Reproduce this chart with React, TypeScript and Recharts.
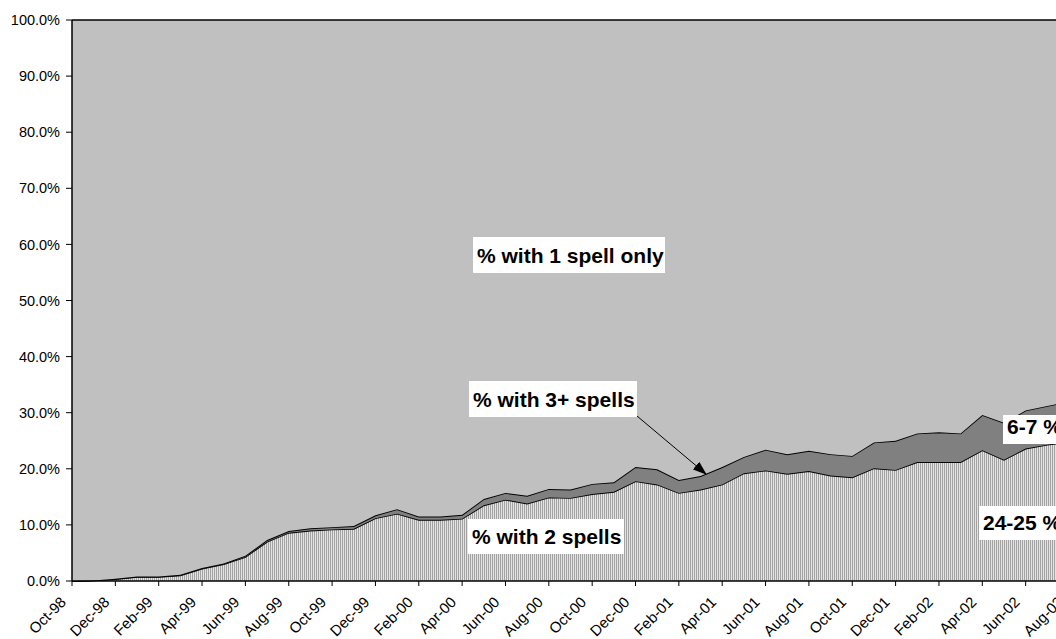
import { AreaChart, Area, XAxis, YAxis } from "recharts";

const months = [
  "Oct-98", "Nov-98", "Dec-98", "Jan-99", "Feb-99", "Mar-99", "Apr-99", "May-99",
  "Jun-99", "Jul-99", "Aug-99", "Sep-99", "Oct-99", "Nov-99", "Dec-99", "Jan-00",
  "Feb-00", "Mar-00", "Apr-00", "May-00", "Jun-00", "Jul-00", "Aug-00", "Sep-00",
  "Oct-00", "Nov-00", "Dec-00", "Jan-01", "Feb-01", "Mar-01", "Apr-01", "May-01",
  "Jun-01", "Jul-01", "Aug-01", "Sep-01", "Oct-01", "Nov-01", "Dec-01", "Jan-02",
  "Feb-02", "Mar-02", "Apr-02", "May-02", "Jun-02", "Jul-02", "Aug-02",
];

// % of people with 2 spells
const twoSpells = [
  0.0, 0.1, 0.35, 0.75, 0.75, 1.0, 2.2, 3.0, 4.3, 7.0, 8.6, 9.0, 9.2, 9.3, 11.2, 12.0,
  10.9, 10.9, 11.1, 13.5, 14.5, 13.8, 14.9, 14.8, 15.5, 15.9, 17.8, 17.2, 15.7, 16.3,
  17.2, 19.2, 19.7, 19.1, 19.6, 18.8, 18.5, 20.1, 19.8, 21.2, 21.2, 21.2, 23.3, 21.6,
  23.6, 24.3, 24.8,
];

// % with 3 or more spells
const threePlusSpells = [
  0.0, 0.0, 0.05, 0.05, 0.05, 0.1, 0.1, 0.1, 0.2, 0.3, 0.3, 0.4, 0.4, 0.5, 0.5, 0.8,
  0.6, 0.6, 0.7, 1.1, 1.2, 1.4, 1.5, 1.5, 1.8, 1.7, 2.5, 2.7, 2.3, 2.4, 3.1, 2.9, 3.7,
  3.5, 3.6, 3.8, 3.8, 4.6, 5.2, 5.1, 5.3, 5.1, 6.3, 6.6, 6.8, 6.9, 7.2,
];

// % with a single spell only
const oneSpellOnly = [
  100.0, 99.9, 99.6, 99.2, 99.2, 98.9, 97.7, 96.9, 95.5, 92.7, 91.1, 90.6, 90.4, 90.2,
  88.3, 87.2, 88.5, 88.5, 88.2, 85.4, 84.3, 84.8, 83.6, 83.7, 82.7, 82.4, 79.7, 80.1,
  82.0, 81.3, 79.7, 77.9, 76.6, 77.4, 76.8, 77.4, 77.7, 75.3, 75.0, 73.7, 73.5, 73.7,
  70.4, 71.8, 69.6, 68.8, 68.0,
];

const yTicks = [0, 10, 20, 30, 40, 50, 60, 70, 80, 90, 100];

const data = months.map((m, i) => ({
  month: m,
  two: twoSpells[i],
  three: threePlusSpells[i],
  one: oneSpellOnly[i],
}));

const FONT = "Arial, 'Liberation Sans', sans-serif";

function MonthTick(props: any) {
  const { x, y, payload } = props;
  return (
    <g transform={`translate(${x - 5},${y + 15})`}>
      <text
        x={0}
        y={0}
        textAnchor="end"
        transform="rotate(-45)"
        fontSize={15}
        fontFamily={FONT}
        fill="#000"
      >
        {payload.value}
      </text>
    </g>
  );
}

function Tag({ x, y, w, h, text }: { x: number; y: number; w: number; h: number; text: string }) {
  return (
    <g>
      <rect x={x} y={y} width={w} height={h} fill="#fff" />
      <text
        x={x + 4}
        y={y + h - 10}
        fontSize={21}
        fontWeight="bold"
        fontFamily={FONT}
        fill="#000"
      >
        {text}
      </text>
    </g>
  );
}

export default function App() {
  return (
    <div
      style={{
        position: "fixed",
        left: 0,
        top: 0,
        width: 1056,
        height: 639,
        overflow: "hidden",
        background: "#fff",
      }}
    >
      <AreaChart
        width={1100}
        height={639}
        data={data}
        margin={{ top: 20, right: 31, left: 0, bottom: 0 }}
      >
        <defs>
          <pattern id="vstripes" patternUnits="userSpaceOnUse" width={2} height={4}>
            <rect x={0} y={0} width={2} height={4} fill="#e4e4e4" />
            <rect x={0} y={0} width={1} height={4} fill="#a2a2a2" />
          </pattern>
        </defs>
        <XAxis
          dataKey="month"
          interval={1}
          height={58}
          tickSize={5}
          axisLine={{ stroke: "#000", strokeWidth: 1.5 }}
          tickLine={{ stroke: "#000" }}
          tick={<MonthTick />}
        />
        <YAxis
          width={72}
          domain={[0, 100]}
          ticks={yTicks}
          tickSize={6}
          tickMargin={6}
          tickFormatter={(v: number) => `${v.toFixed(1)}%`}
          axisLine={{ stroke: "#000", strokeWidth: 1.5 }}
          tickLine={{ stroke: "#000" }}
          tick={{ fill: "#000", fontSize: 14.5, fontFamily: FONT }}
        />
        <Area
          type="linear"
          dataKey="two"
          stackId="1"
          fill="url(#vstripes)"
          fillOpacity={1}
          stroke="#000"
          strokeWidth={1.8}
          dot={false}
          activeDot={false}
          isAnimationActive={false}
        />
        <Area
          type="linear"
          dataKey="three"
          stackId="1"
          fill="#808080"
          fillOpacity={1}
          stroke="#000"
          strokeWidth={1.8}
          dot={false}
          activeDot={false}
          isAnimationActive={false}
        />
        <Area
          type="linear"
          dataKey="one"
          stackId="1"
          fill="#c0c0c0"
          fillOpacity={1}
          stroke="#000"
          strokeWidth={1.5}
          dot={false}
          activeDot={false}
          isAnimationActive={false}
        />
      </AreaChart>
      <svg
        width={1056}
        height={639}
        style={{ position: "absolute", left: 0, top: 0, pointerEvents: "none" }}
      >
        <defs>
          <marker
            id="arrowhead"
            markerUnits="userSpaceOnUse"
            markerWidth={14}
            markerHeight={10}
            refX={13}
            refY={5}
            orient="auto"
          >
            <path d="M0,0 L14,5 L0,10 Z" fill="#000" />
          </marker>
        </defs>
        <Tag x={473} y={237} w={192} h={36} text="% with 1 spell only" />
        <Tag x={469} y={381} w={168} h={36} text="% with 3+ spells" />
        <Tag x={468} y={519} w={156} h={35} text="% with 2 spells" />
        <Tag x={1003} y={415} w={70} h={29} text="6-7 %" />
        <Tag x={979} y={506} w={90} h={34} text="24-25 %" />
        <line
          x1={637}
          y1={416}
          x2={706}
          y2={474}
          stroke="#000"
          strokeWidth={1}
          markerEnd="url(#arrowhead)"
        />
      </svg>
    </div>
  );
}
